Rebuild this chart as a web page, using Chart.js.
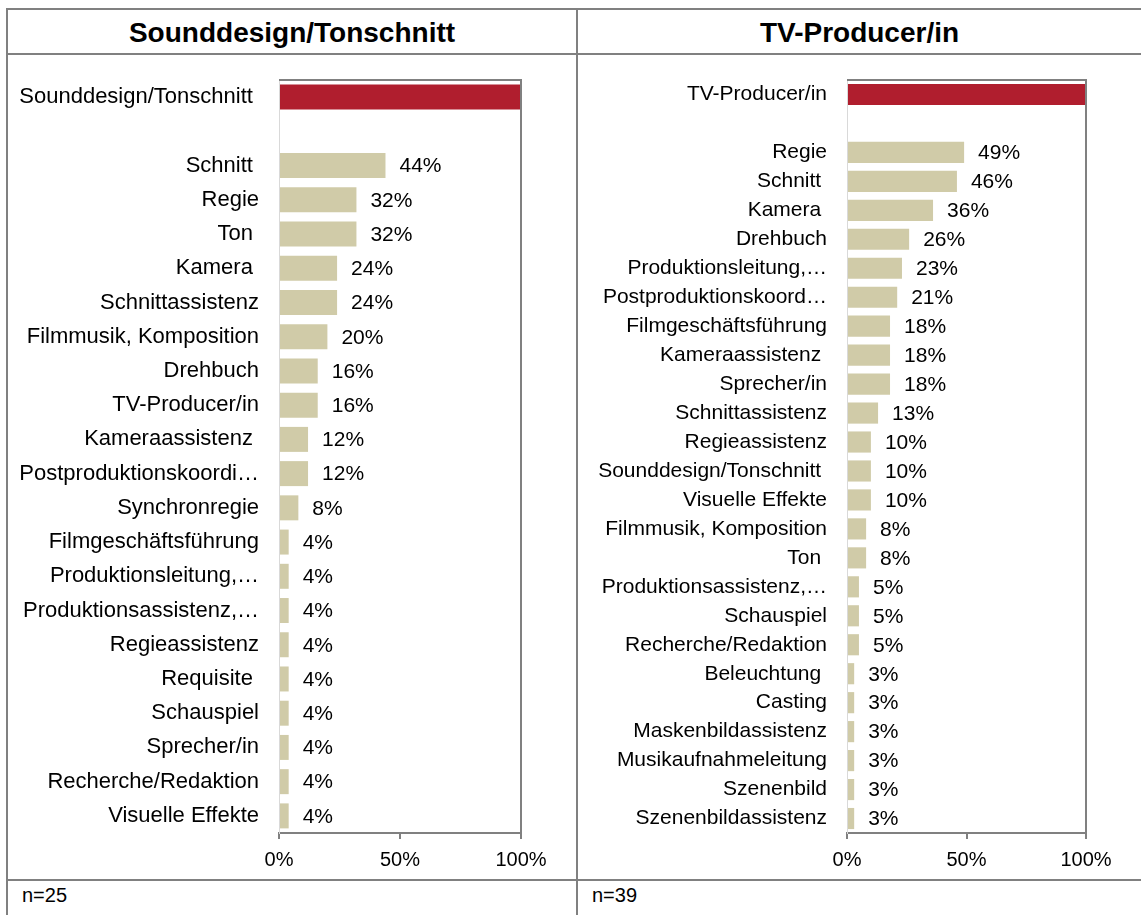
<!DOCTYPE html>
<html>
<head>
<meta charset="utf-8">
<title>Sounddesign/Tonschnitt – TV-Producer/in</title>
<script src="https://cdn.jsdelivr.net/npm/chart.js@4.4.1/dist/chart.umd.min.js"></script>
<style>
  body { margin: 0; background: #fff; font-family: "Liberation Sans", Arial, sans-serif; }
  #page { position: relative; width: 1141px; height: 915px; overflow: hidden; }
  .hl { position: absolute; height: 2px; background: #808080; }
  .vl { position: absolute; width: 2px; background: #808080; }
  .title { position: absolute; top: 18px; font-weight: bold; font-size: 28px; line-height: 30px; text-align: center; color: #000; }
  .n { position: absolute; top: 885px; font-size: 20px; line-height: 20px; color: #000; }
  .box { position: absolute; top: 55px; height: 824px; }
</style>
</head>
<body>
<div id="page">
  <div class="hl" style="left:6px; top:8px; width:1135px"></div>
  <div class="hl" style="left:6px; top:53px; width:1135px"></div>
  <div class="hl" style="left:6px; top:879px; width:1135px"></div>
  <div class="vl" style="left:6px; top:8px; height:907px"></div>
  <div class="vl" style="left:576px; top:8px; height:907px"></div>

  <div class="title" style="left:8px; width:568px">Sounddesign/Tonschnitt</div>
  <div class="title" style="left:578px; width:563px">TV-Producer/in</div>

  <div class="box" style="left:8px; width:568px"><canvas id="leftChart"></canvas></div>
  <div class="box" style="left:578px; width:562px"><canvas id="rightChart"></canvas></div>

  <div class="n" style="left:22px">n=25</div>
  <div class="n" style="left:592px">n=39</div>
</div>

<script>
// left panel: Sounddesign/Tonschnitt (first entry = header bar, second = gap)
const leftCategories = [
  "Sounddesign/Tonschnitt ", "",
  "Schnitt ", "Regie", "Ton ", "Kamera ", "Schnittassistenz",
  "Filmmusik, Komposition", "Drehbuch", "TV-Producer/in", "Kameraassistenz ",
  "Postproduktionskoordi…", "Synchronregie", "Filmgeschäftsführung",
  "Produktionsleitung,…", "Produktionsassistenz,…", "Regieassistenz",
  "Requisite ", "Schauspiel", "Sprecher/in", "Recherche/Redaktion", "Visuelle Effekte"
];
const leftValues = [100, null, 44, 32, 32, 24, 24, 20, 16, 16, 12, 12, 8, 4, 4, 4, 4, 4, 4, 4, 4, 4];

// right panel: TV-Producer/in
const rightCategories = [
  "TV-Producer/in", "",
  "Regie", "Schnitt ", "Kamera ", "Drehbuch", "Produktionsleitung,…",
  "Postproduktionskoord…", "Filmgeschäftsführung", "Kameraassistenz ", "Sprecher/in",
  "Schnittassistenz", "Regieassistenz", "Sounddesign/Tonschnitt ", "Visuelle Effekte",
  "Filmmusik, Komposition", "Ton ", "Produktionsassistenz,…", "Schauspiel",
  "Recherche/Redaktion", "Beleuchtung ", "Casting", "Maskenbildassistenz",
  "Musikaufnahmeleitung", "Szenenbild", "Szenenbildassistenz"
];
const rightValues = [100, null, 49, 46, 36, 26, 23, 21, 18, 18, 18, 13, 10, 10, 10, 8, 8, 5, 5, 5, 3, 3, 3, 3, 3, 3];

const xTicks = [0, 50, 100];

const FONT = "'Liberation Sans', Arial, sans-serif";
Chart.defaults.font.family = FONT;
Chart.defaults.font.size = 20;
Chart.defaults.color = "#000";

// top + right border of the plot area
const frame = {
  id: "frame",
  afterDraw(chart) {
    const a = chart.chartArea;
    const ctx = chart.ctx;
    ctx.save();
    ctx.strokeStyle = "#808080";
    ctx.lineWidth = 2;
    ctx.beginPath();
    ctx.moveTo(a.left, a.top);
    ctx.lineTo(a.right, a.top);
    ctx.lineTo(a.right, a.bottom);
    ctx.stroke();
    ctx.restore();
  },
};

// percentage labels next to the bars
const valueLabels = {
  id: "valueLabels",
  afterDatasetsDraw(chart) {
    const ctx = chart.ctx;
    const values = chart.data.datasets[0].data;
    const meta = chart.getDatasetMeta(0);
    ctx.save();
    ctx.font = "21px " + FONT;
    ctx.fillStyle = "#000";
    ctx.textAlign = "left";
    ctx.textBaseline = "middle";
    meta.data.forEach((bar, i) => {
      if (i === 0 || values[i] == null) return;
      ctx.fillText(values[i] + "%", bar.x + 14, bar.y + 1);
    });
    ctx.restore();
  },
};

function makeChart(id, labels, values, axisWidth, padRight, labelSize) {
  const colors = values.map((v, i) => (i === 0 ? "#B01E2E" : "#D0CBA8"));
  return new Chart(document.getElementById(id), {
    type: "bar",
    data: {
      labels: labels,
      datasets: [
        {
          data: values,
          backgroundColor: colors,
          categoryPercentage: 1,
          barPercentage: 0.73,
        },
      ],
    },
    options: {
      indexAxis: "y",
      responsive: true,
      maintainAspectRatio: false,
      animation: false,
      layout: { padding: { top: 25, right: padRight, left: 0, bottom: 0 } },
      plugins: { legend: { display: false }, tooltip: { enabled: false } },
      scales: {
        x: {
          min: 0,
          max: 100,
          afterBuildTicks: (scale) => {
            scale.ticks = xTicks.map((v) => ({ value: v }));
          },
          afterFit: (scale) => {
            scale.height = 46;
          },
          ticks: {
            callback: (v) => v + "%",
            padding: 9,
            maxRotation: 0,
          },
          grid: {
            drawOnChartArea: false,
            drawTicks: true,
            tickLength: 6,
            color: "#808080",
            lineWidth: 2,
          },
          border: { color: "#808080", width: 2 },
        },
        y: {
          afterFit: (scale) => {
            scale.width = axisWidth;
            scale.paddingTop = 0;
            scale.paddingBottom = 0;
          },
          ticks: { autoSkip: false, padding: 20, font: { size: labelSize } },
          grid: { display: false, drawTicks: false },
          border: { color: "#d9d9d9", width: 1 },
        },
      },
    },
    plugins: [frame, valueLabels],
  });
}

makeChart("leftChart", leftCategories, leftValues, 271, 55, 22);
makeChart("rightChart", rightCategories, rightValues, 269, 54, 21);
</script>
</body>
</html>
